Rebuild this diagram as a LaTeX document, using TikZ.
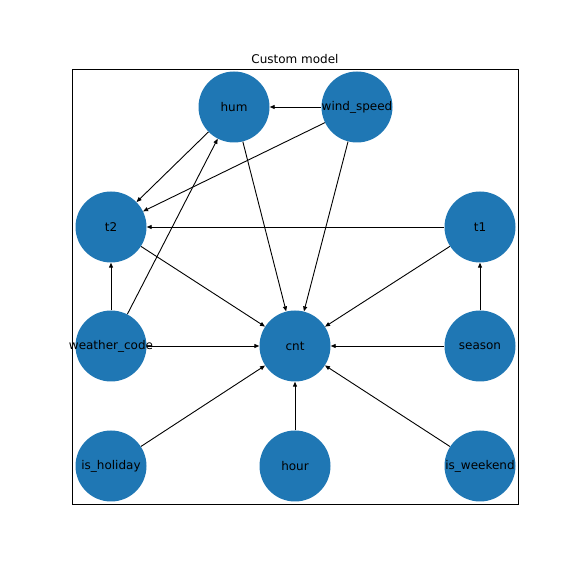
\documentclass[tikz,border=0pt]{standalone}
\usepackage{fontspec}
\setmainfont{DejaVu Sans}
\usetikzlibrary{arrows.meta,backgrounds}
\definecolor{mplblue}{HTML}{1F77B4}
\begin{document}
\begin{tikzpicture}[x=1pt,y=1pt,
  vnode/.style={circle,fill=mplblue,minimum size=71pt,inner sep=0pt,
    label={[font=\fontsize{12}{14}\selectfont,text=black]center:#1}},
  edge/.style={draw=black,line width=0.9pt,-{Triangle[length=5pt,width=4pt]}}]
\useasboundingbox (0,0) rectangle (576,576);
\draw[line width=0.8pt] (72,576-69) rectangle (518,576-504);
\node[font=\fontsize{12}{14}\selectfont] (title) at (295,576-59) {Custom model};
\node[vnode=hum] (hum) at (234,576-107) {};
\node[vnode=wind\_speed] (ws) at (357,576-107) {};
\node[vnode=t2] (t2) at (111,576-227) {};
\node[vnode=t1] (t1) at (480,576-227) {};
\node[vnode=weather\_code] (wc) at (111,576-346) {};
\node[vnode=cnt] (cnt) at (295,576-346) {};
\node[vnode=season] (season) at (480,576-346) {};
\node[vnode=is\_holiday] (hol) at (111,576-466) {};
\node[vnode=hour] (hour) at (295,576-466) {};
\node[vnode=is\_weekend] (wk) at (480,576-466) {};
\begin{scope}[on background layer]
\draw[edge] (ws) -- (hum);
\draw[edge] (hum) -- (t2);
\draw[edge] (ws) -- (t2);
\draw[edge] (hum) -- (cnt);
\draw[edge] (ws) -- (cnt);
\draw[edge] (t1) -- (t2);
\draw[edge] (t1) -- (cnt);
\draw[edge] (t2) -- (cnt);
\draw[edge] (wc) -- (t2);
\draw[edge] (wc) -- (hum);
\draw[edge] (wc) -- (cnt);
\draw[edge] (season) -- (t1);
\draw[edge] (season) -- (cnt);
\draw[edge] (hol) -- (cnt);
\draw[edge] (hour) -- (cnt);
\draw[edge] (wk) -- (cnt);
\end{scope}
\end{tikzpicture}
\end{document}
